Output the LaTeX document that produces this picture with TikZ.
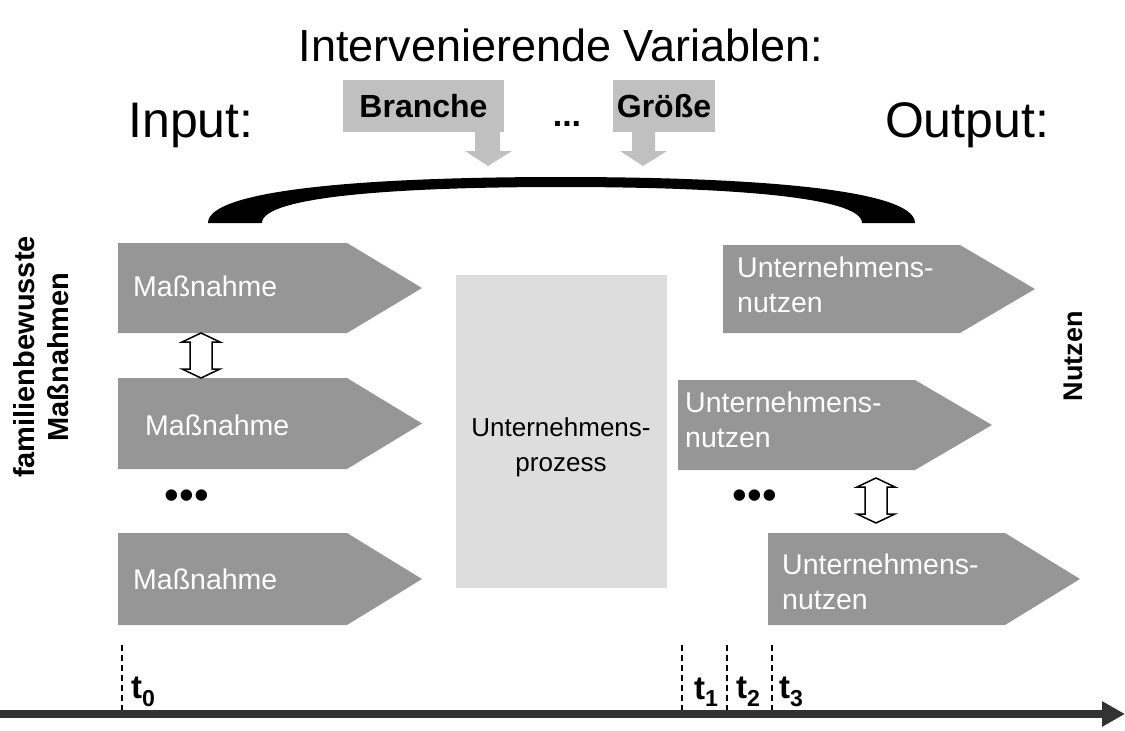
\documentclass[tikz,border=0pt]{standalone}
\usepackage{fontspec}
\setmainfont{Liberation Sans}
\usetikzlibrary{arrows.meta}
\definecolor{arrowgray}{RGB}{150,150,150}
\definecolor{boxgray}{RGB}{221,221,221}
\definecolor{vargray}{RGB}{192,192,192}
\definecolor{axisgray}{RGB}{51,51,51}
% #1 name, #2 x left, #3 y top, #4 x body end, #5 x tip, #6 y bottom
\newcommand{\pentshape}[6]{%
  \fill[arrowgray] (#2,#3) -- (#4,#3) -- (#5,{(#3+#6)/2}) -- (#4,#6) -- (#2,#6) -- cycle;
  \coordinate (#1) at (#2,{(#3+#6)/2});}
% #1 center x, #2 y top, #3 y bottom
\newcommand{\dblarrow}[3]{%
  \draw[dblstyle] (#1,#2) -- ({#1+19},{#2+9}) -- ({#1+11},{#2+9}) -- ({#1+11},{#3-9})
    -- ({#1+19},{#3-9}) -- (#1,#3) -- ({#1-19},{#3-9}) -- ({#1-11},{#3-9})
    -- ({#1-11},{#2+9}) -- ({#1-19},{#2+9}) -- cycle;}
\begin{document}
\begin{tikzpicture}[x=1pt,y=-1pt,
  title/.style={font=\fontsize{45}{50}\selectfont, inner sep=0},
  bigtitle/.style={font=\fontsize{50}{55}\selectfont, inner sep=0},
  shapetext/.style={text=white, font=\fontsize{28.5}{35}\selectfont, inner sep=0, anchor=west, align=left},
  vartext/.style={fill=vargray, font=\fontsize{32}{34}\bfseries\selectfont, inner sep=0},
  sidelabel/.style={font=\fontsize{29}{34}\bfseries\selectfont, rotate=90, align=center, inner sep=0},
  dblstyle/.style={draw=black, fill=white, line width=1.5pt, line join=miter},
  tickline/.style={dash pattern=on 6pt off 4pt, line width=1.6pt},
  ticklabel/.style={font=\fontsize{33}{34}\bfseries\selectfont, inner sep=0, anchor=west},
  dots/.style={font=\fontsize{42}{42}\selectfont, inner sep=0}
]
\useasboundingbox (0,0) rectangle (1125,731);

% titles
\node[title] (tit) at (561,45) {Intervenierende Variablen:};
\node[bigtitle] (inp) at (191,125) {Input:};
\node[bigtitle] (outp) at (967,125) {Output:};

% variable boxes
\node[vartext, minimum width=161, minimum height=52] (branche) at (423.5,106) {Branche};
\node[vartext, minimum width=102, minimum height=52] (groesse) at (664,106) {Größe};
\node[font=\fontsize{34}{34}\bfseries\selectfont, inner sep=0] (vdots) at (567,124) {...};
\fill[vargray] (475,132) -- (500,132) -- (500,151) -- (512,151) -- (488,166) -- (465,151) -- (475,151) -- cycle;
\fill[vargray] (632,132) -- (655,132) -- (655,151) -- (667,151) -- (643,166) -- (620,151) -- (632,151) -- cycle;

% arc
\fill[black] (208,223) .. controls (208,188) and (380,177) .. (561,177)
  .. controls (742,177) and (915,188) .. (915,223) -- (862,223)
  .. controls (862,196) and (720,187) .. (561,187)
  .. controls (402,187) and (262,196) .. (262,223) -- cycle;

% process box
\node[fill=boxgray, minimum width=211, minimum height=313, inner sep=0] (proc) at (561.5,431.5) {};
\node[font=\fontsize{26}{35}\selectfont, align=center, inner sep=0] (proctext) at (561,447) {Unternehmens-\\prozess};

% left arrows
\pentshape{m1}{118}{243}{347}{422}{333}
\pentshape{m2}{118}{378}{347}{422}{469}
\pentshape{m3}{118}{533}{347}{422}{625}
\node[shapetext] (m1t) at (133,286) {Maßnahme};
\node[shapetext] (m2t) at (145,425) {Maßnahme};
\node[shapetext] (m3t) at (133,579) {Maßnahme};
\node[dots] (ldots) at (187,500) {•••};

% right arrows
\pentshape{n1}{723}{245}{960}{1035}{333}
\pentshape{n2}{678}{380}{915}{992}{470}
\pentshape{n3}{768}{533}{1005}{1080}{625}
\node[shapetext] (n1t) at (737,285) {Unternehmens-\\nutzen};
\node[shapetext] (n2t) at (685,420) {Unternehmens-\\nutzen};
\node[shapetext] (n3t) at (782,582) {Unternehmens-\\nutzen};
\node[dots] (rdots) at (755,500) {•••};

% double arrows
\dblarrow{201}{333}{378}
\dblarrow{876}{478}{523}

% side labels
\node[sidelabel] (lside) at (41,357) {familienbewusste\\Maßnahmen};
\node[sidelabel, font=\fontsize{27}{30}\bfseries\selectfont] (rside) at (1073,356) {Nutzen};

% time axis
\coordinate (axs) at (0,714);
\coordinate (axe) at (1125,714);
\draw[axisgray, line width=8pt, -{Triangle[length=23pt,width=24pt]}] (axs) -- (axe);

\coordinate (t0a) at (122,645); \coordinate (t0b) at (122,710);
\coordinate (t1a) at (682,645); \coordinate (t1b) at (682,710);
\coordinate (t2a) at (727,645); \coordinate (t2b) at (727,710);
\coordinate (t3a) at (772,645); \coordinate (t3b) at (772,710);
\draw[tickline] (t0a) -- (t0b);
\draw[tickline] (t1a) -- (t1b);
\draw[tickline] (t2a) -- (t2b);
\draw[tickline] (t3a) -- (t3b);
\node[ticklabel] (t0) at (131,692) {t\textsubscript{0}};
\node[ticklabel] (t1) at (694,692) {t\textsubscript{1}};
\node[ticklabel] (t2) at (736,692) {t\textsubscript{2}};
\node[ticklabel] (t3) at (779,692) {t\textsubscript{3}};
\end{tikzpicture}
\end{document}
